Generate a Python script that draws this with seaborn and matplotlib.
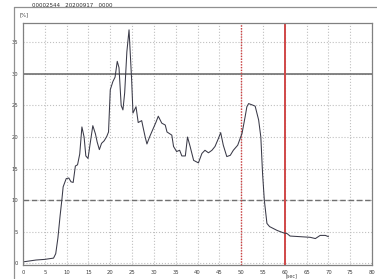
import seaborn as sns
import numpy as np
import pandas as pd
import matplotlib.pyplot as plt

sns.set_style('white')
plt.rcParams['font.family'] = ['DejaVu Sans']

# curve: time [sec] and value [%]
t = [0, 1, 3, 5, 6, 7, 7.5, 8, 8.5, 8.9, 9.2, 9.9, 10.5, 11, 11.5, 12, 12.5, 13, 13.5,
     14, 14.4, 14.9, 15.4, 16, 16.6, 17, 17.5, 18, 18.6, 19.2, 19.6, 20, 20.6, 21.1, 21.6,
     22, 22.5, 22.9, 23.3, 23.8, 24.3, 24.6, 24.9, 25.2, 25.9, 26.4, 27.2, 27.5, 28, 28.4,
     29, 29.5, 30.5, 31, 31.8, 32.6, 33, 34.1, 34.5, 35.2, 35.9, 36.4, 37.2, 37.7, 38.3,
     39.1, 40.2, 41, 41.7, 42.5, 43.3, 44, 44.8, 45.3, 45.9, 46.7, 47.5, 48.2, 49.2, 50.2,
     50.9, 51.3, 51.7, 52.5, 53.2, 54, 54.5, 54.9, 55.3, 55.9, 56.5, 58.2, 59.7, 60.5,
     61.2, 63.5, 65.8, 67, 68.1, 69.3, 70]
pct = [0.2, 0.3, 0.5, 0.6, 0.7, 0.8, 1.5, 4.0, 7.5, 10.0, 12.1, 13.4, 13.5, 12.9, 12.8,
       15.4, 15.6, 17.3, 21.6, 20.0, 17.0, 16.6, 19.0, 21.8, 20.5, 19.2, 18.0, 19.0,
       19.4, 20.1, 20.8, 27.5, 28.8, 29.5, 32.0, 31.0, 25.0, 24.3, 27.0, 33.5, 37.0,
       33.0, 29.0, 23.8, 24.8, 22.3, 22.6, 21.6, 20.0, 18.9, 20.0, 20.8, 22.4, 23.3,
       22.2, 21.9, 20.8, 20.3, 18.5, 17.7, 17.9, 17.0, 17.0, 20.0, 18.5, 16.3, 15.9,
       17.4, 17.9, 17.5, 17.9, 18.5, 19.8, 20.7, 18.7, 16.9, 17.1, 17.9, 18.7, 20.6,
       23.2, 24.8, 25.3, 25.1, 24.9, 22.7, 20.0, 14.2, 10.0, 6.3, 5.8, 5.2, 4.8, 4.7,
       4.3, 4.2, 4.1, 3.9, 4.4, 4.4, 4.2]
header = '00002544   20200917   0000'

df = pd.DataFrame({'sec': t, 'pct': pct})

fig = plt.figure(figsize=(3.77, 2.79), dpi=100)
ax = fig.add_axes([0.061, 0.050, 0.926, 0.868])

ax.grid(True, which='major', color='#c0c0c0', linestyle=':', linewidth=0.8)
ax.axhline(30, color='#707070', linewidth=1.2)
ax.axhline(10, color='#707070', linewidth=1.0, linestyle=(0, (4, 2)))
ax.axvline(50, color='#d04040', linewidth=1.0, linestyle=(0, (1, 1)))
ax.axvline(60, color='#d04848', linewidth=1.4)

sns.lineplot(data=df, x='sec', y='pct', color='#3a3a48', linewidth=0.75, ax=ax)

ax.set_xlim(0, 80)
ax.set_ylim(-0.3, 38.1)
ax.set_xticks(np.arange(0, 81, 5))
ax.set_yticks(np.arange(0, 36, 5))
ax.set_xticks(np.arange(0, 81, 1), minor=True)
ax.set_yticks(np.arange(0, 38, 1), minor=True)
ax.tick_params(which='both', direction='out', labelsize=3.8, colors='#606060',
               labelcolor='#404040', pad=1.5)
ax.tick_params(which='major', length=2, width=0.5)
ax.tick_params(which='minor', length=1, width=0.4)
ax.set_xlabel('[sec]', fontsize=3.5, color='#404040', labelpad=1)
ax.xaxis.set_label_coords(0.77, -0.035)
ax.set_ylabel('')
for s in ax.spines.values():
    s.set_color('#808080')
    s.set_linewidth(0.9)

fig.text(0.053, 0.94, '[%]', fontsize=3.8, color='#404040')
fig.text(0.085, 0.99, header, fontsize=4, color='#303030', va='top')
fig.add_artist(plt.Line2D([0.037, 1.0], [0.975, 0.975], color='#909090', linewidth=0.9))
fig.add_artist(plt.Line2D([0.037, 0.037], [0.0, 0.975], color='#909090', linewidth=0.9))

plt.savefig('out.png', dpi=100)
